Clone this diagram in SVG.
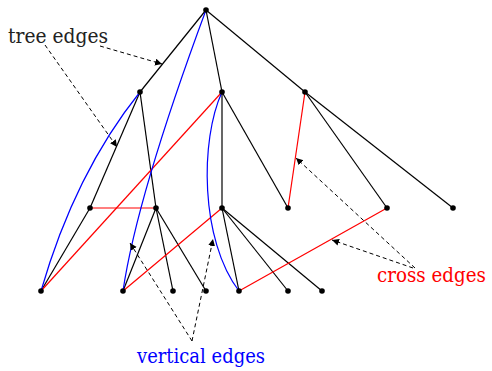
<svg xmlns="http://www.w3.org/2000/svg" width="492" height="371" viewBox="0 0 492 371">
<defs>
<marker id="ah" markerUnits="userSpaceOnUse" markerWidth="10" markerHeight="10" refX="7" refY="3.5" orient="auto">
<path d="M0,0 L7,3.5 L0,7 Z" fill="#000"/>
</marker>
</defs>
<style>
.t{stroke:#000;stroke-width:1.2;fill:none}
.r{stroke:#f00;stroke-width:1.2;fill:none}
.b{stroke:#00f;stroke-width:1.2;fill:none}
.d{stroke:#000;stroke-width:1;fill:none;stroke-dasharray:4 3;marker-end:url(#ah)}
.n{fill:#000}
</style>
<g id="connectors">
<g id="tree-edges">
<line class="t" x1="206" y1="10" x2="140" y2="92"/>
<line class="t" x1="206" y1="10" x2="222" y2="92"/>
<line class="t" x1="206" y1="10" x2="305" y2="92"/>
<line class="t" x1="140" y1="92" x2="90" y2="208"/>
<line class="t" x1="140" y1="92" x2="156" y2="208"/>
<line class="t" x1="222" y1="92" x2="222" y2="208"/>
<line class="t" x1="222" y1="92" x2="288" y2="208"/>
<line class="t" x1="305" y1="92" x2="387" y2="208"/>
<line class="t" x1="305" y1="92" x2="453" y2="208"/>
<line class="t" x1="90" y1="208" x2="41" y2="291"/>
<line class="t" x1="156" y1="208" x2="123" y2="291"/>
<line class="t" x1="156" y1="208" x2="173" y2="291"/>
<line class="t" x1="156" y1="208" x2="206" y2="291"/>
<line class="t" x1="222" y1="208" x2="239" y2="291"/>
<line class="t" x1="222" y1="208" x2="288" y2="291"/>
<line class="t" x1="222" y1="208" x2="322" y2="291"/>
</g>
<g id="cross-edges">
<line class="r" x1="222" y1="92" x2="41" y2="291"/>
<line class="r" x1="156" y1="208" x2="90" y2="208"/>
<line class="r" x1="305" y1="92" x2="288" y2="208"/>
<line class="r" x1="222" y1="208" x2="123" y2="291"/>
<line class="r" x1="387" y1="208" x2="239" y2="291"/>
</g>
<g id="vertical-edges">
<path class="b" d="M206,10 Q137,196 123,291"/>
<path class="b" d="M140,92 Q75,173 41,291"/>
<path class="b" d="M222,92 C200,140 200,240 239,291"/>
</g>
<g id="pointers">
<line class="d" x1="100" y1="46" x2="162" y2="64"/>
<line class="d" x1="45" y1="45" x2="117" y2="147"/>
<line class="d" x1="192" y1="341" x2="130" y2="243"/>
<line class="d" x1="192" y1="341" x2="213" y2="239"/>
<line class="d" x1="415" y1="268" x2="296" y2="158"/>
<line class="d" x1="413" y1="268" x2="332" y2="240"/>
</g>
</g>
<g id="n-root"><circle class="n" cx="206" cy="10" r="2.8"/></g>
<g id="n-a"><circle class="n" cx="140" cy="92" r="2.8"/></g>
<g id="n-b"><circle class="n" cx="222" cy="92" r="2.8"/></g>
<g id="n-c"><circle class="n" cx="305" cy="92" r="2.8"/></g>
<g id="n-a1"><circle class="n" cx="90" cy="208" r="2.8"/></g>
<g id="n-a2"><circle class="n" cx="156" cy="208" r="2.8"/></g>
<g id="n-b1"><circle class="n" cx="222" cy="208" r="2.8"/></g>
<g id="n-b2"><circle class="n" cx="288" cy="208" r="2.8"/></g>
<g id="n-c1"><circle class="n" cx="387" cy="208" r="2.8"/></g>
<g id="n-c2"><circle class="n" cx="453" cy="208" r="2.8"/></g>
<g id="n-a1a"><circle class="n" cx="41" cy="291" r="2.8"/></g>
<g id="n-a2a"><circle class="n" cx="123" cy="291" r="2.8"/></g>
<g id="n-a2b"><circle class="n" cx="173" cy="291" r="2.8"/></g>
<g id="n-a2c"><circle class="n" cx="206" cy="291" r="2.8"/></g>
<g id="n-b1a"><circle class="n" cx="239" cy="291" r="2.8"/></g>
<g id="n-b1b"><circle class="n" cx="288" cy="291" r="2.8"/></g>
<g id="n-b1c"><circle class="n" cx="322" cy="291" r="2.8"/></g>
<g id="labels">
<text x="8" y="43" fill="#222" font-family="'DejaVu Serif', serif" font-size="21" textLength="100" lengthAdjust="spacingAndGlyphs">tree edges</text>
<text transform="translate(377,282) scale(0.81,1)" fill="#f00" font-family="'DejaVu Serif', serif" font-size="21" textLength="134.5" lengthAdjust="spacingAndGlyphs">cross edges</text>
<text x="137" y="363" fill="#00f" font-family="'DejaVu Serif', serif" font-size="21" textLength="128" lengthAdjust="spacingAndGlyphs">vertical edges</text>
</g>
</svg>
